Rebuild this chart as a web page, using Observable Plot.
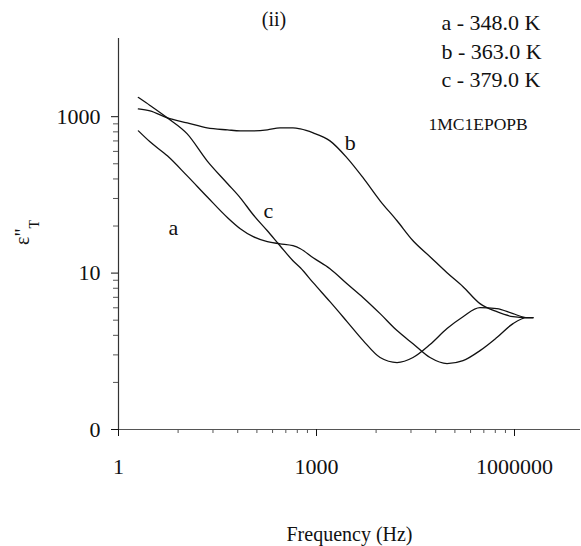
<!DOCTYPE html>
<html>
<head>
<meta charset="utf-8">
<script src="https://cdn.jsdelivr.net/npm/d3@7"></script>
<script src="https://cdn.jsdelivr.net/npm/@observablehq/plot@0.6"></script>
<style>
  html, body { margin: 0; padding: 0; background: #fff; }
</style>
</head>
<body>
<div id="chart"></div>
<script>
// Frequency (Hz) sample points
const freq = [2, 3, 5.5, 11, 22, 45, 70, 110, 180, 280, 440, 570, 890, 1600, 2900, 5100, 9200, 16600, 29000, 52500, 95000, 166000, 300000, 540000, 950000, 1540000, 1900000];
// epsilon'' values per curve
const epsA = [659, 477, 316, 175, 94.6, 51.0, 36.9, 29.2, 25.2, 23.7, 22.4, 20.5, 15.7, 11.4, 7.32, 4.85, 3.03, 1.84, 1.25, 0.832, 0.697, 0.760, 1.02, 1.50, 2.26, 2.69, 2.69];
const epsB = [1259, 1186, 966, 834, 719, 678, 659, 659, 678, 719, 719, 698, 621, 491, 298, 165, 84.1, 46.7, 25.9, 16.2, 10.1, 6.70, 4.07, 3.21, 2.77, 2.69, 2.69];
const epsC = [1763, 1394, 966, 603, 273, 139, 91.8, 55.7, 34.8, 22.4, 14.4, 11.7, 7.54, 4.31, 2.40, 1.37, 0.832, 0.718, 0.832, 1.22, 1.95, 2.77, 3.61, 3.51, 3.03, 2.69, 2.69];

const curveNames = ["a", "b", "c"];
const curveLabelFreq = [6.8, 3235, 186];
const curveLabelEps = [38, 463, 62];
const legendLabels = ["a - 348.0 K", "b - 363.0 K", "c - 379.0 K"];
const sampleCode = "1MC1EPOPB";
const panelTitle = "(ii)";
const xTitle = "Frequency (Hz)";

const xMajor = [1, 1000, 1000000];
const xMajorLabels = ["1", "1000", "1000000"];
const xMinor = [8, 27, 64, 125, 216, 343, 512, 729, 8000, 27000, 64000, 125000, 216000, 343000, 512000, 729000];
const yMajor = [0.1, 10, 1000];
const yMajorLabels = ["0", "10", "1000"];
const yMinor = [0.4, 0.9, 1.6, 2.5, 3.6, 4.9, 6.4, 8.1, 40, 90, 160, 250, 360, 490, 640, 810];

const series = [epsA, epsB, epsC];
const rows = [];
series.forEach((vals, s) => freq.forEach((f, i) => rows.push({f, v: vals[i], s: curveNames[s]})));

const font = "'Liberation Serif', 'Times New Roman', Times, serif";

const chart = Plot.plot({
  width: 581,
  height: 546,
  marginLeft: 118,
  marginRight: 1,
  marginTop: 38,
  marginBottom: 117,
  x: {type: "log", domain: [1, 1e7], label: null},
  y: {type: "log", domain: [0.1, 10000], label: null},
  style: {fontFamily: font, fontSize: "22px", color: "#111", background: "#fff", overflow: "visible"},
  marks: [
    Plot.ruleX([1], {stroke: "#333", strokeWidth: 1.2}),
    Plot.ruleY([0.1], {stroke: "#555", strokeWidth: 1}),
    Plot.axisY({ticks: yMinor, tickSize: 5, tickFormat: () => "", label: null, stroke: "#555"}),
    Plot.axisY({ticks: yMajor, tickSize: 7, tickPadding: 11, tickFormat: d => yMajorLabels[yMajor.indexOf(d)], label: null, fontSize: 22}),
    Plot.axisX({ticks: xMinor, tickSize: 4, tickFormat: () => "", label: null, stroke: "#555"}),
    Plot.axisX({ticks: xMajor, tickSize: 7, tickPadding: 22, tickFormat: d => xMajorLabels[xMajor.indexOf(d)], label: null, fontSize: 22}),
    Plot.line(rows, {x: "f", y: "v", z: "s", stroke: "#111", strokeWidth: 1.3, curve: "monotone-x"}),
    Plot.text(curveNames, {x: (d, i) => curveLabelFreq[i], y: (d, i) => curveLabelEps[i], text: d => d, fontSize: 22, fill: "#111"}),
    ...legendLabels.map((t, i) => Plot.text([t], {frameAnchor: "top-left", dx: 323, dy: -15.5 + i * 28.5, text: d => d, textAnchor: "start", lineAnchor: "middle", fontSize: 22, fill: "#111"})),
    Plot.text([sampleCode], {frameAnchor: "top-left", dx: 310, dy: 85.5, text: d => d, textAnchor: "start", lineAnchor: "middle", fontSize: 17.5, fill: "#111"}),
    Plot.text([panelTitle], {frameAnchor: "top-left", dx: 155.5, dy: -18.5, text: d => d, textAnchor: "middle", lineAnchor: "middle", fontSize: 20, fill: "#111"}),
    Plot.text([xTitle], {frameAnchor: "bottom", dy: 105.5, text: d => d, textAnchor: "middle", lineAnchor: "middle", fontSize: 20, fill: "#111"})
  ]
});

document.getElementById("chart").appendChild(chart);

// Y-axis title: epsilon'' with subscript T, rotated
const yt = d3.select(chart).append("text")
  .attr("transform", "translate(29,245) rotate(-90)")
  .attr("font-family", font)
  .attr("font-size", 20)
  .attr("fill", "#111")
  .attr("text-anchor", "start");
yt.append("tspan").text("ε\"");
yt.append("tspan").attr("font-size", 14).attr("dy", 10).text("T");
</script>
</body>
</html>
